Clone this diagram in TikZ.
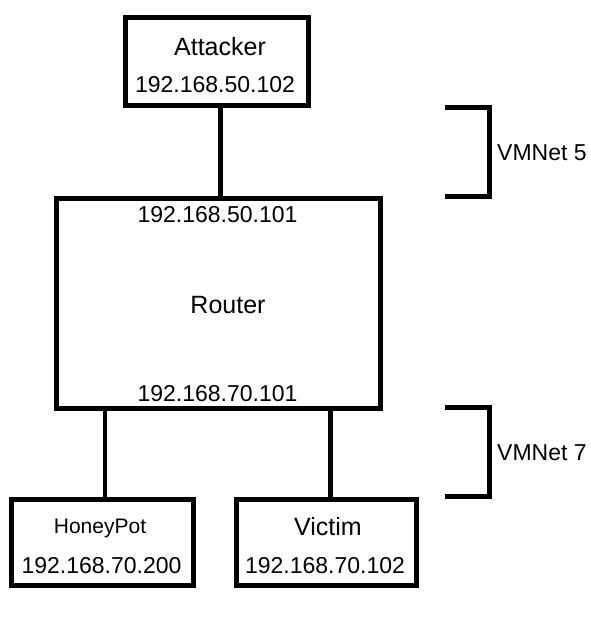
\documentclass[tikz,border=0pt]{standalone}
\usepackage{fontspec}
\setmainfont{Liberation Sans}
\begin{document}
\begin{tikzpicture}[x=1pt,y=-1pt,
  boxstyle/.style={draw, line width=5pt, rectangle, inner sep=0pt, outer sep=0pt},
  linkstyle/.style={line width=4.5pt},
  bracestyle/.style={line width=5pt, line join=miter},
  titlelbl/.style={anchor=base, inner sep=0pt, font=\fontsize{25}{25}\selectfont},
  smalllbl/.style={anchor=base, inner sep=0pt, font=\fontsize{21}{21}\selectfont},
  iplbl/.style={anchor=base, inner sep=0pt, font=\fontsize{23}{23}\selectfont},
  netlbl/.style={anchor=base west, inner sep=0pt, font=\fontsize{23}{23}\selectfont}]
\useasboundingbox (0,0) rectangle (591,622);
% boxes
\node[boxstyle, minimum width=183pt, minimum height=87.5pt] (attacker) at (217,61.25) {};
\node[boxstyle, minimum width=324.5pt, minimum height=210.5pt] (router) at (218.25,303.25) {};
\node[boxstyle, minimum width=182pt, minimum height=86pt] (honeypot) at (102,542) {};
\node[boxstyle, minimum width=180pt, minimum height=86pt] (victim) at (326,542) {};
% texts
\node[titlelbl] (attackername) at (220,55) {Attacker};
\node[iplbl] (attackerip) at (215,92) {192.168.50.102};
\node[iplbl] (routerip5) at (217.5,222) {192.168.50.101};
\node[titlelbl] (routername) at (228,313) {Router};
\node[iplbl] (routerip7) at (217.5,401) {192.168.70.101};
\node[smalllbl] (honeypotname) at (100,533) {HoneyPot};
\node[iplbl] (honeypotip) at (101.5,573) {192.168.70.200};
\node[titlelbl] (victimname) at (328,535) {Victim};
\node[iplbl] (victimip) at (325,573) {192.168.70.102};
% connectors
\coordinate (a) at (220.5,0);
\coordinate (h) at (105,0);
\coordinate (v) at (330.5,0);
\draw[linkstyle] (attacker.south -| a) -- (router.north -| a);
\draw[linkstyle] (router.south -| h) -- (honeypot.north -| h);
\draw[linkstyle] (router.south -| v) -- (victim.north -| v);
% network brackets
\draw[bracestyle] (445,107.5) -- (489.5,107.5) -- (489.5,196) -- (445,196);
\node[netlbl] (vmnet5) at (497,160) {VMNet 5};
\draw[bracestyle] (445,407.5) -- (489.5,407.5) -- (489.5,496) -- (445,496);
\node[netlbl] (vmnet7) at (497,460) {VMNet 7};
\end{tikzpicture}
\end{document}
